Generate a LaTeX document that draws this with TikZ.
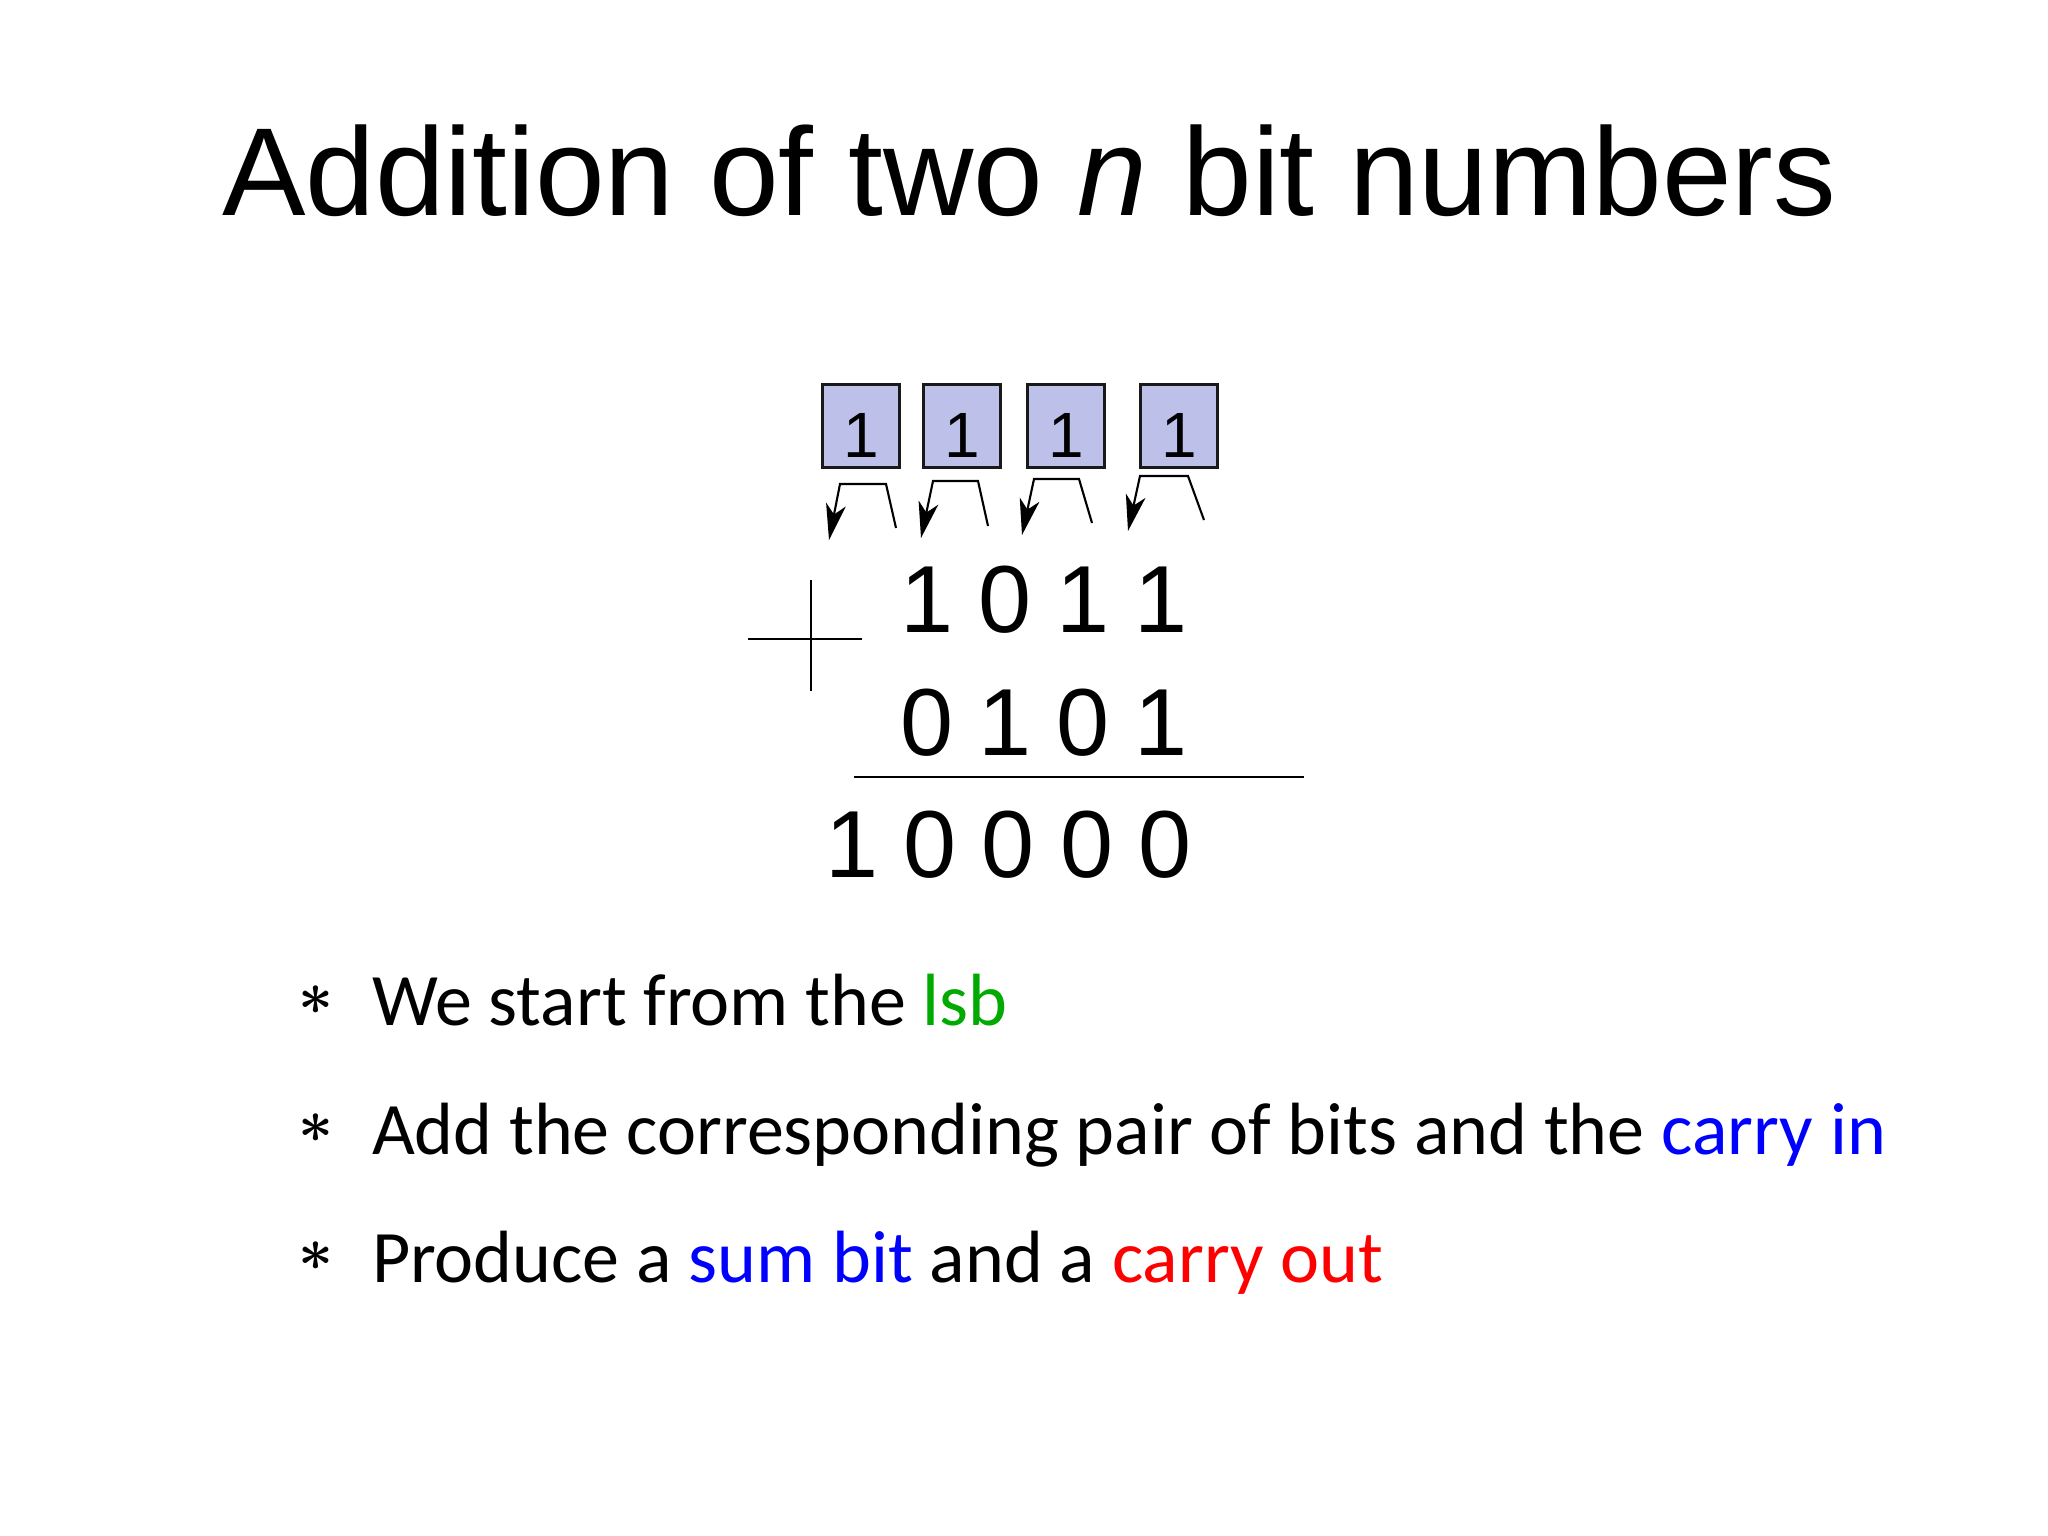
\documentclass[tikz,border=0pt]{standalone}
\usepackage{fontspec}
\setmainfont{Liberation Sans}
\newfontfamily\bodyfont{Carlito}
\usetikzlibrary{arrows.meta}
\definecolor{boxfill}{RGB}{189,193,234}
\definecolor{lsbgreen}{RGB}{0,170,0}
\definecolor{kwblue}{RGB}{0,0,255}
\definecolor{kwred}{RGB}{255,0,0}
\begin{document}
\begin{tikzpicture}[x=0.01cm,y=-0.01cm,
  txt/.style={inner sep=0pt, outer sep=0pt},
  bit/.style={txt, anchor=base, font=\fontsize{27.1}{30}\selectfont},
  carrybox/.style={draw=black!90, line width=0.85pt, fill=boxfill, minimum width=0.76cm, minimum height=0.82cm, inner sep=0pt, text height=0.62cm, text depth=0cm, font=\fontsize{18.2}{20}\selectfont},
  carryarrow/.style={line width=0.6pt, -{Stealth[length=0.36cm,width=0.2cm,inset=0.1cm]}},
  bullettext/.style={txt, anchor=base west, font=\bodyfont\fontsize{21.05}{24}\selectfont},
  star/.style={txt, font=\fontsize{19}{22}\selectfont\boldmath}]
\useasboundingbox (0,0) rectangle (2048,1536);

% title
\node[txt, anchor=base west, font=\fontsize{35.6}{40}\selectfont] (title) at (222,215) {Addition of two \textit{n} bit numbers};

% carry boxes
\node[carrybox] (c1) at (861,426) {1};
\node[carrybox] (c2) at (962,426) {1};
\node[carrybox] (c3) at (1066,426) {1};
\node[carrybox] (c4) at (1179,426) {1};

% carry arrows
\coordinate (a1s) at (896,528); \coordinate (a1t) at (829,540);
\coordinate (a2s) at (988,526); \coordinate (a2t) at (921,538);
\coordinate (a3s) at (1092,523); \coordinate (a3t) at (1022,535);
\coordinate (a4s) at (1204,520); \coordinate (a4t) at (1128,531);
\draw[carryarrow] (a1s) -- (886,484) -- (840,484) -- (a1t);
\draw[carryarrow] (a2s) -- (978,481) -- (933,481) -- (a2t);
\draw[carryarrow] (a3s) -- (1079,479) -- (1034,479) -- (a3t);
\draw[carryarrow] (a4s) -- (1188,476) -- (1140,476) -- (a4t);

% first operand
\node[bit] (r1a) at (927,632) {1};
\node[bit] (r1b) at (1005,632) {0};
\node[bit] (r1c) at (1083,632) {1};
\node[bit] (r1d) at (1161,632) {1};
% second operand
\node[bit] (r2a) at (927,755) {0};
\node[bit] (r2b) at (1005,755) {1};
\node[bit] (r2c) at (1083,755) {0};
\node[bit] (r2d) at (1161,755) {1};
% result
\node[bit] (r3a) at (852,877) {1};
\node[bit] (r3b) at (930,877) {0};
\node[bit] (r3c) at (1008,877) {0};
\node[bit] (r3d) at (1087,877) {0};
\node[bit] (r3e) at (1165,877) {0};

% plus sign
\coordinate (ph1) at (748,639); \coordinate (ph2) at (862,639);
\coordinate (pv1) at (811,580); \coordinate (pv2) at (811,691);
\draw[line width=0.45pt] (ph1) -- (ph2);
\draw[line width=0.45pt] (pv1) -- (pv2);

% sum line
\coordinate (sl) at (854,777); \coordinate (sr) at (1304,777);
\draw[line width=0.6pt] (sl) -- (sr);

% bullets
\node[star] (s1) at (316,1000) {$\ast$};
\node[star] (s2) at (316,1128) {$\ast$};
\node[star] (s3) at (316,1256) {$\ast$};
\node[bullettext] (l1) at (372,1025) {We start from the {\color{lsbgreen}lsb}};
\node[bullettext] (l2) at (372,1154) {Add the corresponding pair of bits and the {\color{kwblue}carry in}};
\node[bullettext] (l3) at (372,1282) {Produce a {\color{kwblue}sum bit} and a {\color{kwred}carry out}};
\end{tikzpicture}
\end{document}
